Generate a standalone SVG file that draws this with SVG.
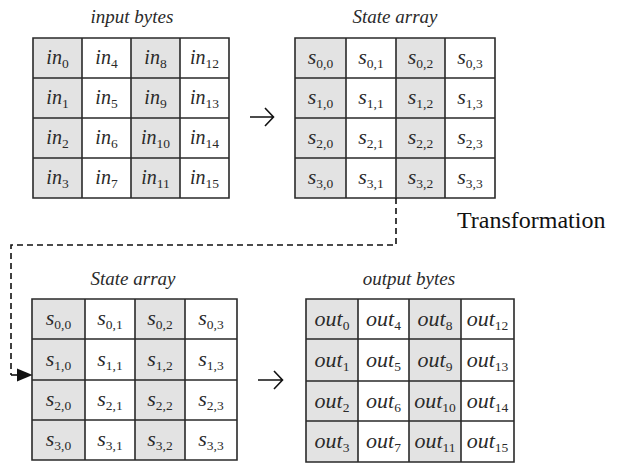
<svg xmlns="http://www.w3.org/2000/svg" width="619" height="464" viewBox="0 0 619 464">
<defs>
<style>
.bg{fill:#ffffff}
.gr{fill:#e3e3e3}
.ln{fill:none;stroke:#2a2a2a;stroke-width:1.6}
.title{font-family:"Liberation Serif",serif;font-style:italic;font-size:19px;fill:#2a2a2a;text-anchor:middle}
.c{font-family:"Liberation Serif",serif;font-style:italic;fill:#2a2a2a;text-anchor:middle}
.in{font-size:20px}
.s{font-size:22px}
.o{font-size:22px}
.sub{font-style:normal;font-size:13.5px}
.conn{fill:none;stroke:#111;stroke-width:1.6}
.dash{fill:none;stroke:#111;stroke-width:1.6;stroke-dasharray:6,4}
.lbl{font-family:"Liberation Serif",serif;font-size:24px;fill:#111}
</style>
</defs>
<rect x="0" y="0" width="619" height="464" fill="#ffffff"/>

<g id="input-bytes">
<text class="title" x="132" y="23">input bytes</text>
<rect class="gr" x="33" y="38" width="49" height="160"/>
<rect class="gr" x="131" y="38" width="49" height="160"/>
<path class="ln" d="M33,38H229V198H33Z M82,38V198 M131,38V198 M180,38V198 M33,78H229 M33,118H229 M33,158H229"/>
<g class="c in">
<text x="57.5" y="64">in<tspan class="sub" dy="4">0</tspan></text>
<text x="57.5" y="104">in<tspan class="sub" dy="4">1</tspan></text>
<text x="57.5" y="144">in<tspan class="sub" dy="4">2</tspan></text>
<text x="57.5" y="184">in<tspan class="sub" dy="4">3</tspan></text>
<text x="106.5" y="64">in<tspan class="sub" dy="4">4</tspan></text>
<text x="106.5" y="104">in<tspan class="sub" dy="4">5</tspan></text>
<text x="106.5" y="144">in<tspan class="sub" dy="4">6</tspan></text>
<text x="106.5" y="184">in<tspan class="sub" dy="4">7</tspan></text>
<text x="155.5" y="64">in<tspan class="sub" dy="4">8</tspan></text>
<text x="155.5" y="104">in<tspan class="sub" dy="4">9</tspan></text>
<text x="155.5" y="144">in<tspan class="sub" dy="4">10</tspan></text>
<text x="155.5" y="184">in<tspan class="sub" dy="4">11</tspan></text>
<text x="204.5" y="64">in<tspan class="sub" dy="4">12</tspan></text>
<text x="204.5" y="104">in<tspan class="sub" dy="4">13</tspan></text>
<text x="204.5" y="144">in<tspan class="sub" dy="4">14</tspan></text>
<text x="204.5" y="184">in<tspan class="sub" dy="4">15</tspan></text>
</g>
</g>

<g id="state-array-1">
<text class="title" x="395" y="23">State array</text>
<rect class="gr" x="295" y="38" width="51" height="160"/>
<rect class="gr" x="396" y="38" width="49" height="160"/>
<path class="ln" d="M295,38H495V198H295Z M346,38V198 M396,38V198 M445,38V198 M295,78H495 M295,118H495 M295,158H495"/>
<g class="c s">
<text x="320.5" y="64">s<tspan class="sub" dy="4">0,0</tspan></text>
<text x="320.5" y="104">s<tspan class="sub" dy="4">1,0</tspan></text>
<text x="320.5" y="144">s<tspan class="sub" dy="4">2,0</tspan></text>
<text x="320.5" y="184">s<tspan class="sub" dy="4">3,0</tspan></text>
<text x="371" y="64">s<tspan class="sub" dy="4">0,1</tspan></text>
<text x="371" y="104">s<tspan class="sub" dy="4">1,1</tspan></text>
<text x="371" y="144">s<tspan class="sub" dy="4">2,1</tspan></text>
<text x="371" y="184">s<tspan class="sub" dy="4">3,1</tspan></text>
<text x="420.5" y="64">s<tspan class="sub" dy="4">0,2</tspan></text>
<text x="420.5" y="104">s<tspan class="sub" dy="4">1,2</tspan></text>
<text x="420.5" y="144">s<tspan class="sub" dy="4">2,2</tspan></text>
<text x="420.5" y="184">s<tspan class="sub" dy="4">3,2</tspan></text>
<text x="470" y="64">s<tspan class="sub" dy="4">0,3</tspan></text>
<text x="470" y="104">s<tspan class="sub" dy="4">1,3</tspan></text>
<text x="470" y="144">s<tspan class="sub" dy="4">2,3</tspan></text>
<text x="470" y="184">s<tspan class="sub" dy="4">3,3</tspan></text>
</g>
</g>

<g id="state-array-2">
<text class="title" x="133" y="285">State array</text>
<rect class="gr" x="32" y="299" width="53" height="161"/>
<rect class="gr" x="135" y="299" width="50" height="161"/>
<path class="ln" d="M32,299H237V460H32Z M85,299V460 M135,299V460 M185,299V460 M32,339H237 M32,380H237 M32,420H237"/>
<g class="c s">
<text x="58.5" y="325">s<tspan class="sub" dy="4">0,0</tspan></text>
<text x="58.5" y="366">s<tspan class="sub" dy="4">1,0</tspan></text>
<text x="58.5" y="406">s<tspan class="sub" dy="4">2,0</tspan></text>
<text x="58.5" y="446">s<tspan class="sub" dy="4">3,0</tspan></text>
<text x="110" y="325">s<tspan class="sub" dy="4">0,1</tspan></text>
<text x="110" y="366">s<tspan class="sub" dy="4">1,1</tspan></text>
<text x="110" y="406">s<tspan class="sub" dy="4">2,1</tspan></text>
<text x="110" y="446">s<tspan class="sub" dy="4">3,1</tspan></text>
<text x="160" y="325">s<tspan class="sub" dy="4">0,2</tspan></text>
<text x="160" y="366">s<tspan class="sub" dy="4">1,2</tspan></text>
<text x="160" y="406">s<tspan class="sub" dy="4">2,2</tspan></text>
<text x="160" y="446">s<tspan class="sub" dy="4">3,2</tspan></text>
<text x="211" y="325">s<tspan class="sub" dy="4">0,3</tspan></text>
<text x="211" y="366">s<tspan class="sub" dy="4">1,3</tspan></text>
<text x="211" y="406">s<tspan class="sub" dy="4">2,3</tspan></text>
<text x="211" y="446">s<tspan class="sub" dy="4">3,3</tspan></text>
</g>
</g>

<g id="output-bytes">
<text class="title" x="409" y="285">output bytes</text>
<rect class="gr" x="306" y="299" width="52" height="163"/>
<rect class="gr" x="409" y="299" width="52" height="163"/>
<path class="ln" d="M306,299H514V462H306Z M358,299V462 M409,299V462 M461,299V462 M306,339H514 M306,381H514 M306,421H514"/>
<g class="c o">
<text x="332" y="326">out<tspan class="sub" dy="4">0</tspan></text>
<text x="332" y="367">out<tspan class="sub" dy="4">1</tspan></text>
<text x="332" y="408">out<tspan class="sub" dy="4">2</tspan></text>
<text x="332" y="448">out<tspan class="sub" dy="4">3</tspan></text>
<text x="383.5" y="326">out<tspan class="sub" dy="4">4</tspan></text>
<text x="383.5" y="367">out<tspan class="sub" dy="4">5</tspan></text>
<text x="383.5" y="408">out<tspan class="sub" dy="4">6</tspan></text>
<text x="383.5" y="448">out<tspan class="sub" dy="4">7</tspan></text>
<text x="435" y="326">out<tspan class="sub" dy="4">8</tspan></text>
<text x="435" y="367">out<tspan class="sub" dy="4">9</tspan></text>
<text x="435" y="408">out<tspan class="sub" dy="4">10</tspan></text>
<text x="435" y="448">out<tspan class="sub" dy="4">11</tspan></text>
<text x="487.5" y="326">out<tspan class="sub" dy="4">12</tspan></text>
<text x="487.5" y="367">out<tspan class="sub" dy="4">13</tspan></text>
<text x="487.5" y="408">out<tspan class="sub" dy="4">14</tspan></text>
<text x="487.5" y="448">out<tspan class="sub" dy="4">15</tspan></text>
</g>
</g>

<g id="connectors">
<path class="conn" d="M250,117H273 M265,108L273.5,117L265,126" stroke-width="2.2"/>
<path class="conn" d="M258,380H282 M274,371L282.5,380L274,389" stroke-width="2.2"/>
<path class="dash" d="M396,198V245H11V375"/>
<path class="conn" d="M11,375H18"/>
<polygon points="17,368.5 32.5,375 17,381.5" fill="#111"/>
<text class="lbl" x="457" y="228">Transformation</text>
</g>
</svg>
